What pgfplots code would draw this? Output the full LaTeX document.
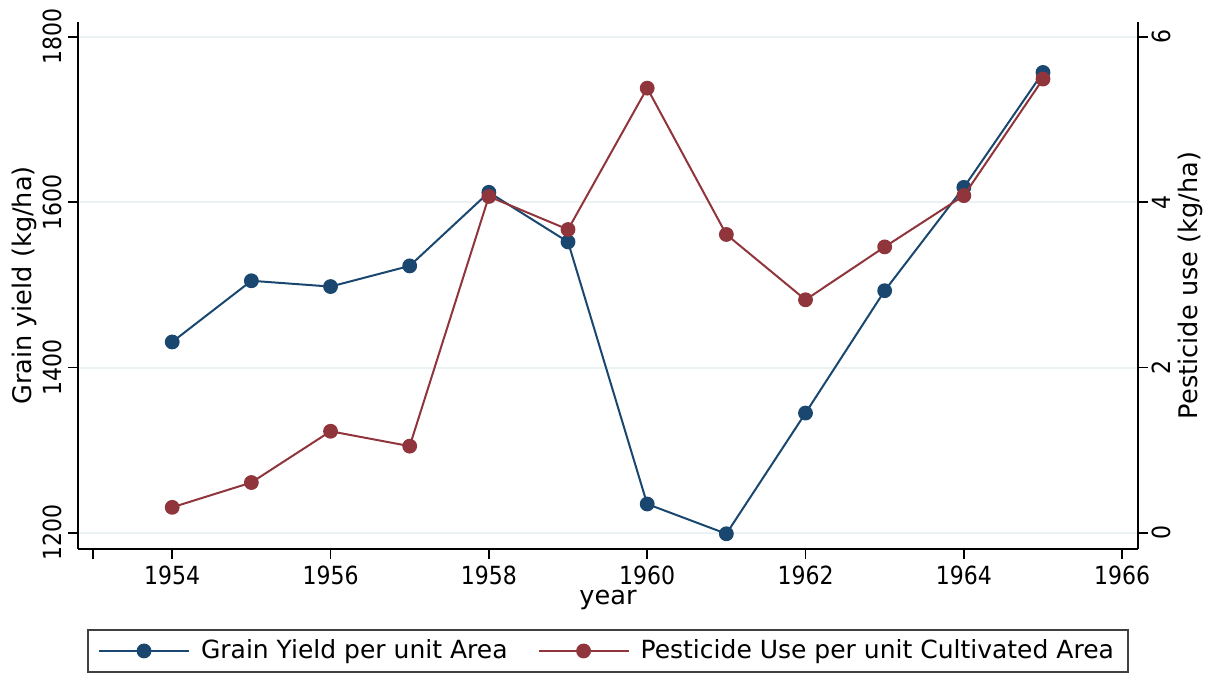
\documentclass[border=0pt]{standalone}
\usepackage{fontspec}
\setmainfont{DejaVu Sans}
\newfontfamily\condfont{DejaVu Sans}[FakeStretch=0.88]
\usepackage{pgfplots}
\pgfplotsset{compat=1.18}
\definecolor{stnavy}{RGB}{26,71,111}
\definecolor{stmaroon}{RGB}{144,53,59}
\definecolor{stgrid}{RGB}{234,242,243}

\pgfplotsset{every axis/.append style={
  width=530pt, height=263.5pt, scale only axis,
  xmin=1952.81, xmax=1966.2,
  tick label style={font=\condfont\fontsize{12.5}{15}\selectfont},
  label style={font=\fontsize{12.8}{15}\selectfont},
  tick align=outside, major tick length=5pt,
  tick style={black, line width=0.75pt},
  axis line style={-, black, line width=0.75pt},
  /pgf/number format/assume math mode=true,
  /pgf/number format/1000 sep={}},
  navyline/.style={stnavy, line width=1pt, mark=*, mark size=3.2pt},
  maroonline/.style={stmaroon, line width=1pt, mark=*, mark size=3.2pt}}

\begin{document}
\begin{tikzpicture}
\begin{axis}[name=main, axis y line*=left, axis x line*=bottom,
  ymin=1180.6, ymax=1818, ytick={1200,1400,1600,1800},
  xtick={1953,1954,1956,1958,1960,1962,1964,1966},
  xticklabels={,1954,1956,1958,1960,1962,1964,1966},
  ymajorgrids, grid style={stgrid, line width=1pt},
  yticklabel style={rotate=90, anchor=south, inner sep=3pt},
  xlabel={year}, ylabel={Grain yield (kg/ha)},
  xlabel style={at={(axis description cs:0.5,-0.0968)}, anchor=center},
  ylabel style={at={(axis description cs:-0.0509,0.5)}, anchor=center}]
\addplot[navyline] coordinates {(1954,1431)(1955,1505)(1956,1498)(1957,1523)(1958,1612)(1959,1552)(1960,1235)(1961,1199)(1962,1345)(1963,1493)(1964,1618)(1965,1757)};
\end{axis}
\begin{axis}[axis y line*=right, axis x line=none,
  ymin=-0.194, ymax=6.18, ytick={0,2,4,6},
  yticklabel style={rotate=90, anchor=north, inner sep=2pt},
  ylabel={Pesticide use (kg/ha)},
  ylabel style={at={(axis description cs:1.049,0.5)}, anchor=center},
  legend columns=2,
  legend image code/.code={\draw[mark repeat=2,mark phase=2,#1] plot coordinates {(0pt,0pt)(22.5pt,0pt)(45pt,0pt)};},
  legend style={at={(0.5,-0.1935)}, anchor=center, draw=black!75, line width=0.75pt,
    font=\fontsize{12.5}{15}\selectfont, inner xsep=5pt, inner ysep=3pt,
    /tikz/every odd column/.append style={column sep=3.5pt},
    /tikz/every even column/.append style={column sep=13pt}}]
\addlegendimage{navyline}
\addlegendentry{Grain Yield per unit Area}
\addplot[maroonline] coordinates {(1954,0.31)(1955,0.61)(1956,1.23)(1957,1.05)(1958,4.07)(1959,3.67)(1960,5.38)(1961,3.61)(1962,2.82)(1963,3.46)(1964,4.08)(1965,5.49)};
\addlegendentry{Pesticide Use per unit Cultivated Area}
\end{axis}
\pgfresetboundingbox
\path[use as bounding box] ([xshift=-39pt,yshift=-62pt]main.south west) rectangle ([xshift=36pt,yshift=11pt]main.north east);
\end{tikzpicture}
\end{document}
